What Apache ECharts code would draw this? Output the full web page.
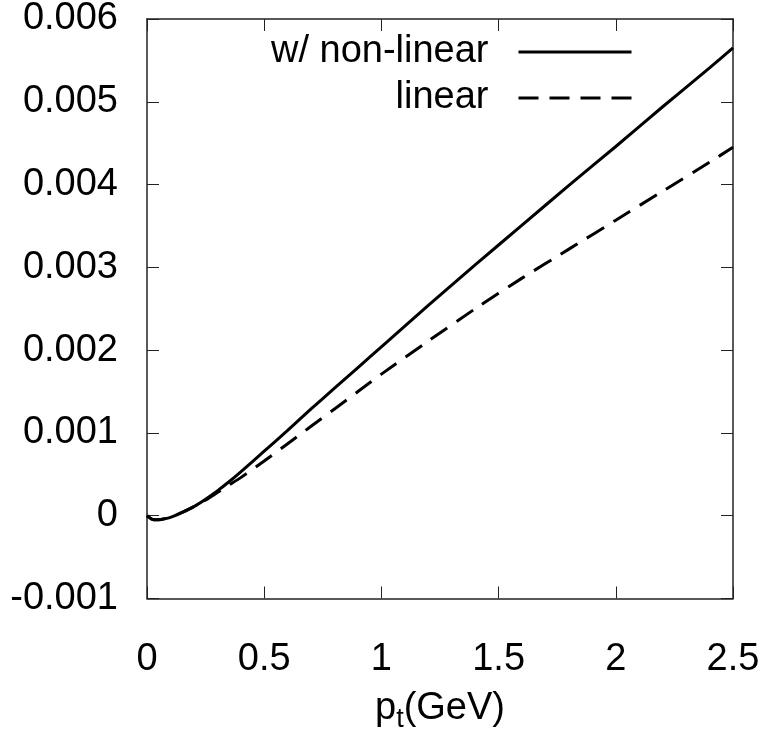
<!DOCTYPE html>
<html>
<head>
<meta charset="utf-8">
<title>pt dependence</title>
<script src="https://cdn.jsdelivr.net/npm/echarts@6/dist/echarts.min.js"></script>
<style>
  html, body { margin: 0; padding: 0; background: #fff; }
  #chart { width: 770px; height: 738px; }
</style>
</head>
<body>
<div id="chart"></div>
<script>
// transverse momentum grid (GeV)
const ptValues = [0, 0.02, 0.04, 0.06, 0.1, 0.15, 0.2, 0.25, 0.3, 0.35, 0.4, 0.5, 0.6, 0.7, 0.8, 0.9, 1.0, 1.2, 1.4, 1.6, 1.8, 2.0, 2.2, 2.4, 2.5];
// result including non-linear terms
const nonLinearValues = [0, -0.00004, -0.00005, -0.000045, -0.00002, 0.00004, 0.00011, 0.0002, 0.0003, 0.00041, 0.00053, 0.00078, 0.00103, 0.00129, 0.00154, 0.00179, 0.00204, 0.00254, 0.00303, 0.00351, 0.00399, 0.00446, 0.00494, 0.00541, 0.00565];
// linear-response result
const linearValues = [0, -0.00004, -0.00005, -0.000045, -0.00002, 0.00004, 0.00011, 0.00019, 0.00028, 0.00037, 0.00046, 0.00066, 0.00087, 0.00108, 0.00129, 0.0015, 0.00171, 0.00211, 0.0025, 0.00287, 0.00322, 0.00357, 0.00392, 0.00427, 0.00445];
const seriesNames = ['w/ non-linear', 'linear'];
const yTicks = { min: -0.001, max: 0.006, step: 0.001 };
const xTicks = { min: 0, max: 2.5, step: 0.5 };

const FONT = '"Liberation Sans", Arial, Helvetica, sans-serif';
const FONT_SIZE = 38;
const AXIS_COLOR = '#222';

function pairs(xs, ys) { return xs.map((x, i) => [x, ys[i]]); }

function yLabel(v) {
  const r = Math.round(v * 1000) / 1000;
  if (r === 0) return '0';
  return r.toFixed(3);
}
function xLabel(v) {
  const r = Math.round(v * 10) / 10;
  return String(r);
}

const chart = echarts.init(document.getElementById('chart'), null, { renderer: 'canvas' });

const tickStyle = { show: true, inside: true, length: 12, lineStyle: { color: AXIS_COLOR, width: 1 } };
const lineStyleAxis = { show: true, onZero: false, lineStyle: { color: AXIS_COLOR, width: 1.5 } };

chart.setOption({
  animation: false,
  backgroundColor: '#ffffff',
  textStyle: { fontFamily: FONT },
  grid: { left: 147, right: 37, top: 19, bottom: 131, containLabel: false },
  legend: {
    orient: 'vertical',
    align: 'right',
    right: 137,
    top: 29,
    padding: 0,
    itemWidth: 113,
    itemHeight: 14,
    itemGap: 0,
    // line-only key: hide the marker drawn on top of the line sample
    itemStyle: { opacity: 0 },
    lineStyle: { width: 3 },
    textStyle: { fontFamily: FONT, fontSize: FONT_SIZE, color: '#000', lineHeight: 46, padding: [0, 25, 0, 0] },
    data: seriesNames
  },
  xAxis: [
    {
      type: 'value',
      position: 'bottom',
      min: xTicks.min, max: xTicks.max, interval: xTicks.step,
      axisLine: lineStyleAxis,
      axisTick: tickStyle,
      splitLine: { show: false },
      axisLabel: { color: '#000', fontSize: FONT_SIZE, fontFamily: FONT, margin: 42, formatter: xLabel },
      name: '{p|p}{s|t}{p|(GeV)}',
      nameLocation: 'middle',
      nameGap: 89,
      nameTextStyle: {
        color: '#000', fontFamily: FONT,
        rich: {
          p: { fontSize: FONT_SIZE, fontFamily: FONT, color: '#000', lineHeight: 42 },
          s: { fontSize: 27, fontFamily: FONT, color: '#000', lineHeight: 42, padding: [22, 0, 0, 0] }
        }
      }
    },
    {
      type: 'value',
      position: 'top',
      min: xTicks.min, max: xTicks.max, interval: xTicks.step,
      axisLine: lineStyleAxis,
      axisTick: tickStyle,
      axisLabel: { show: false },
      splitLine: { show: false }
    }
  ],
  yAxis: [
    {
      type: 'value',
      position: 'left',
      min: yTicks.min, max: yTicks.max, interval: yTicks.step,
      axisLine: lineStyleAxis,
      axisTick: tickStyle,
      splitLine: { show: false },
      axisLabel: { color: '#000', fontSize: FONT_SIZE, fontFamily: FONT, margin: 29, formatter: yLabel }
    },
    {
      type: 'value',
      position: 'right',
      min: yTicks.min, max: yTicks.max, interval: yTicks.step,
      axisLine: lineStyleAxis,
      axisTick: tickStyle,
      axisLabel: { show: false },
      splitLine: { show: false }
    }
  ],
  series: [
    {
      name: seriesNames[0],
      type: 'line',
      xAxisIndex: 0, yAxisIndex: 0,
      data: pairs(ptValues, nonLinearValues),
      showSymbol: false,
      symbol: 'none',
      smooth: 0.2,
      color: '#000',
      lineStyle: { color: '#000', width: 3, type: 'solid' }
    },
    {
      name: seriesNames[1],
      type: 'line',
      xAxisIndex: 0, yAxisIndex: 0,
      data: pairs(ptValues, linearValues),
      showSymbol: false,
      symbol: 'none',
      smooth: 0.2,
      color: '#000',
      lineStyle: { color: '#000', width: 3, type: [20, 11] }
    }
  ]
});
</script>
</body>
</html>
